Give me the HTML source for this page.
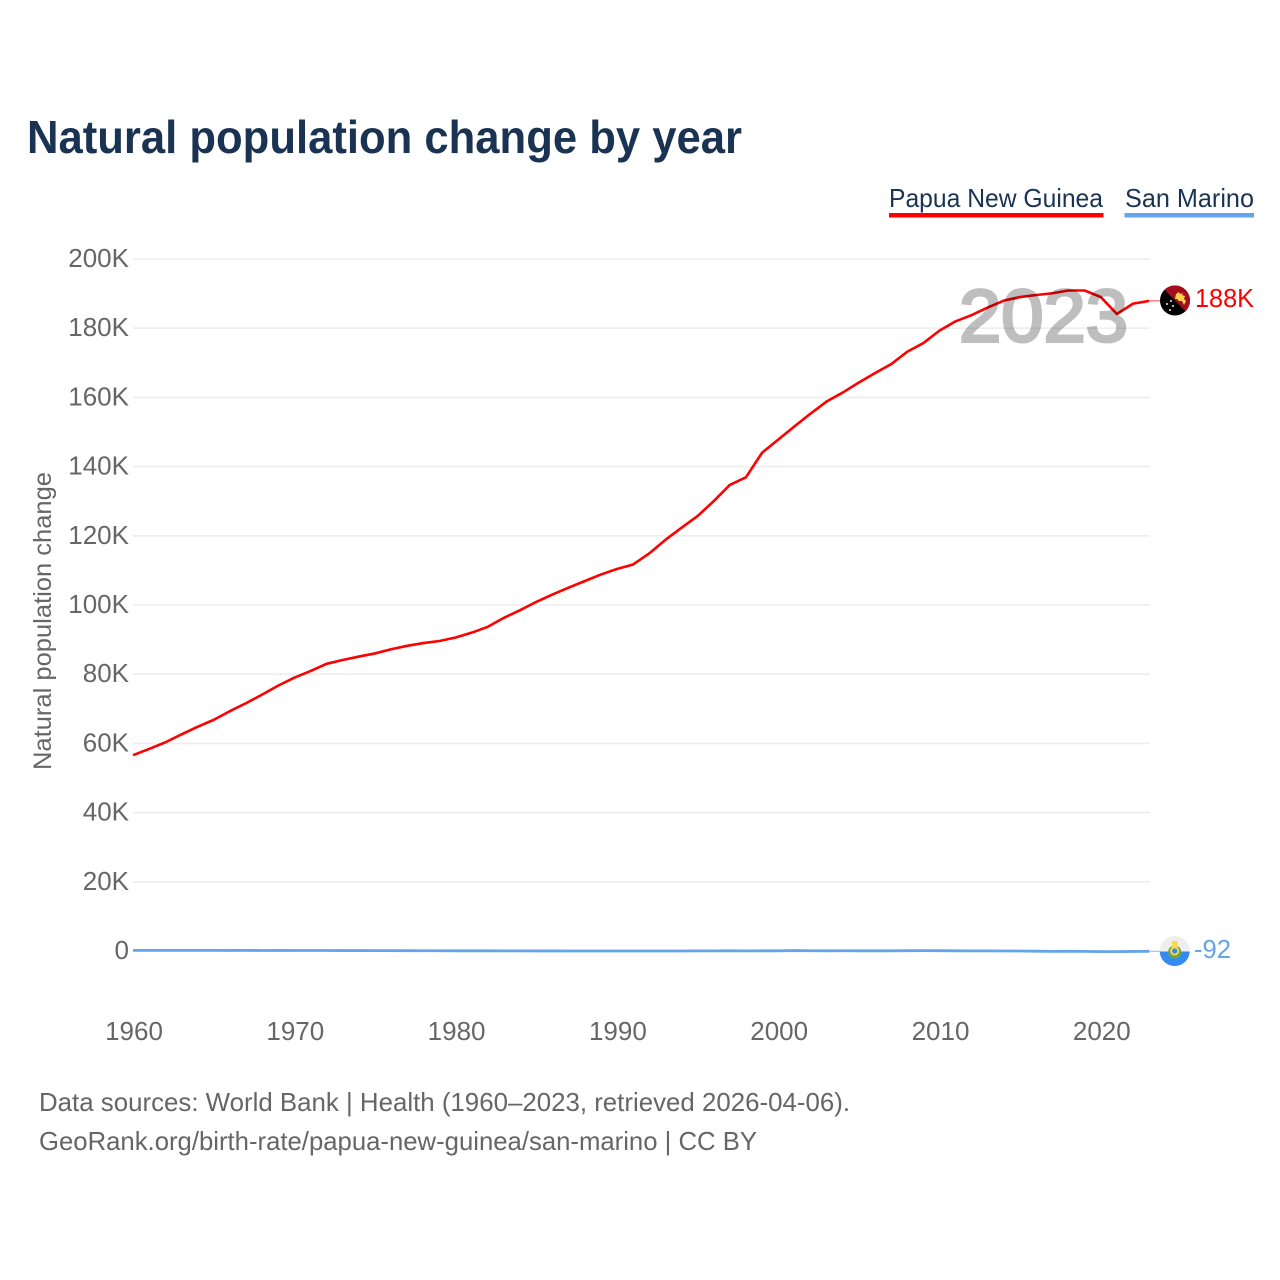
<!DOCTYPE html>
<html>
<head>
<meta charset="utf-8">
<style>
html,body{margin:0;padding:0;background:#fff;width:1280px;height:1280px;overflow:hidden}
svg{display:block;font-family:"Liberation Sans",sans-serif}
</style>
</head>
<body>
<svg id="chart" width="1280" height="1280" viewBox="0 0 1280 1280" xmlns="http://www.w3.org/2000/svg">
  <rect x="0" y="0" width="1280" height="1280" fill="#fff"/>
  <text x="27" y="153" font-size="46" font-weight="700" fill="#1a3353" textLength="715" lengthAdjust="spacingAndGlyphs">Natural population change by year</text>

  <g>
    <text x="889" y="207" font-size="26" fill="#1a3353" textLength="214" lengthAdjust="spacingAndGlyphs">Papua New Guinea</text>
    <rect x="889" y="213" width="214.5" height="4.5" fill="#ff0000"/>
  </g>
  <g>
    <text x="1125" y="207" font-size="26" fill="#1a3353" textLength="129" lengthAdjust="spacingAndGlyphs">San Marino</text>
    <rect x="1124.5" y="213" width="129.5" height="4.5" fill="#63a4ea"/>
  </g>

  <g id="grid"></g>
  <g id="yticks"></g>
  <g id="xticks"></g>
  <text transform="translate(51,621) rotate(-90)" text-anchor="middle" font-size="25" fill="#666" textLength="298" lengthAdjust="spacingAndGlyphs">Natural population change</text>

  <path id="line-sm" fill="none" stroke="#63a4ea" stroke-width="2.8" stroke-linejoin="round"/>
  <line id="conn-sm" stroke="#63a4ea" stroke-width="1.2" opacity="0.6"/>
  <path id="line-png" fill="none" stroke="#ff0000" stroke-width="2.6" stroke-linejoin="round"/>
  <line id="conn-png" stroke="#ff0000" stroke-width="1.2" opacity="0.6"/>

  <text x="959" y="341.5" font-size="74" fill="#000" opacity="0.25" stroke="#000" stroke-width="3" textLength="169" lengthAdjust="spacingAndGlyphs">2023</text>

  <g id="flag-png">
    <clipPath id="clip-png"><circle cx="1175" cy="300.5" r="15"/></clipPath>
    <g clip-path="url(#clip-png)">
      <rect x="1160" y="285" width="30" height="31" fill="#000"/>
      <polygon points="1160,285 1190,285 1190,316" fill="#a50d1e"/>
      <path d="M1176 294 l3 -2 1 2 3 -1 -1 2 3 1 -1 3 2 2 -2 4 -2 -4 -3 0 -2 -2 -2 0z" fill="#f8d24a"/>
      <circle cx="1171" cy="301" r="1" fill="#eee"/>
      <circle cx="1167" cy="304" r="1" fill="#eee"/>
      <circle cx="1173" cy="306" r="1" fill="#eee"/>
      <circle cx="1170" cy="310" r="1" fill="#eee"/>
    </g>
  </g>
  <g id="flag-sm">
    <clipPath id="clip-sm"><circle cx="1174.7" cy="951" r="15"/></clipPath>
    <g clip-path="url(#clip-sm)">
      <rect x="1159" y="936" width="31" height="15.5" fill="#eeeeee"/>
      <rect x="1159" y="951.5" width="31" height="15.5" fill="#338af3"/>
      <circle cx="1174.7" cy="952" r="6.5" fill="#6da544"/>
      <rect x="1172" y="941" width="5.5" height="7" fill="#ffda44"/>
      <circle cx="1174.7" cy="951" r="4.5" fill="#ffda44"/>
      <circle cx="1174.7" cy="951" r="2.6" fill="#338af3"/>
    </g>
  </g>

  <text id="label-png" x="1195" y="307" font-size="26" fill="#ff0000" textLength="59" lengthAdjust="spacingAndGlyphs">188K</text>
  <text id="label-sm" x="1194" y="958" font-size="26" fill="#63a4ea" textLength="37" lengthAdjust="spacingAndGlyphs">-92</text>

  <text x="39" y="1111" font-size="26" fill="#666" textLength="811" lengthAdjust="spacingAndGlyphs">Data sources: World Bank | Health (1960–2023, retrieved 2026-04-06).</text>
  <text x="39" y="1150" font-size="26" fill="#666" textLength="718" lengthAdjust="spacingAndGlyphs">GeoRank.org/birth-rate/papua-new-guinea/san-marino | CC BY</text>
</svg>
<script>
const startYear = 1960;
const xTickYears = [1960, 1970, 1980, 1990, 2000, 2010, 2020];
const yTickValues = [0, 20000, 40000, 60000, 80000, 100000, 120000, 140000, 160000, 180000, 200000];
const yTickLabels = ['0', '20K', '40K', '60K', '80K', '100K', '120K', '140K', '160K', '180K', '200K'];
const papuaNewGuinea = [
  56600, 58400, 60300, 62600, 64800, 66800, 69300, 71600, 74100, 76700,
  79000, 80900, 83000, 84100, 85100, 86000, 87200, 88200, 89000, 89600,
  90600, 92000, 93700, 96300, 98500, 100900, 103000, 105000, 106900, 108800,
  110400, 111700, 114900, 118800, 122300, 125700, 130000, 134700, 136900, 144000,
  147800, 151600, 155300, 158800, 161400, 164300, 167000, 169600, 173200, 175700,
  179300, 182000, 183800, 186000, 188000, 189000, 189600, 190100, 190900, 190900,
  189000, 184100, 187100, 187900
];
const sanMarino = [
  190, 180, 190, 170, 180, 170, 160, 170, 150, 160,
  150, 140, 150, 130, 120, 110, 100, 90, 80, 70,
  60, 60, 50, 40, 30, 20, 20, 10, 10, 0,
  0, 10, 0, 0, 10, 40, 30, 50, 40, 60,
  50, 120, 80, 50, 70, 50, 60, 50, 90, 100,
  90, 60, 40, 30, 10, -10, -60, -110, -90, -100,
  -190, -170, -120, -92
];

function x(year) { return 133 + (year - 1960) * 16.13; }
function y(value) { return 951 - value * 0.00346; }
function linePath(values) {
  return values.map(function (v, i) {
    return (i ? 'L' : 'M') + x(startYear + i).toFixed(2) + ' ' + y(v).toFixed(2);
  }).join(' ');
}
const NS = 'http://www.w3.org/2000/svg';
const grid = document.getElementById('grid');
const yticks = document.getElementById('yticks');
const xticks = document.getElementById('xticks');

yTickValues.forEach(function (v, i) {
  const l = document.createElementNS(NS, 'line');
  
  
  l.setAttribute('x1', 133);
  l.setAttribute('x2', 1150);
  l.setAttribute('y1', y(v));
  l.setAttribute('y2', y(v));
  l.setAttribute('stroke', '#eeeeee');
  l.setAttribute('stroke-width', '1.6');
  grid.appendChild(l);
  const t = document.createElementNS(NS, 'text');
  
  
  t.setAttribute('x', 129);
  t.setAttribute('y', y(v) + 8);
  t.setAttribute('text-anchor', 'end');
  t.setAttribute('font-size', '26');
  t.setAttribute('fill', '#666');
  t.textContent = yTickLabels[i];
  yticks.appendChild(t);
});
xTickYears.forEach(function (yr) {
  const t = document.createElementNS(NS, 'text');
  
  
  t.setAttribute('x', x(yr) + 1);
  t.setAttribute('y', 1040);
  t.setAttribute('text-anchor', 'middle');
  t.setAttribute('font-size', '26');
  t.setAttribute('fill', '#666');
  t.textContent = String(yr);
  xticks.appendChild(t);
});

document.getElementById('line-png').setAttribute('d', linePath(papuaNewGuinea));
document.getElementById('line-sm').setAttribute('d', linePath(sanMarino));

const lastYear = startYear + papuaNewGuinea.length - 1;
const connPng = document.getElementById('conn-png');
connPng.setAttribute('x1', x(lastYear));
connPng.setAttribute('x2', 1161);
connPng.setAttribute('y1', y(papuaNewGuinea[papuaNewGuinea.length - 1]));
connPng.setAttribute('y2', y(papuaNewGuinea[papuaNewGuinea.length - 1]));
const connSm = document.getElementById('conn-sm');
connSm.setAttribute('x1', x(lastYear));
connSm.setAttribute('x2', 1161);
connSm.setAttribute('y1', y(sanMarino[sanMarino.length - 1]));
connSm.setAttribute('y2', y(sanMarino[sanMarino.length - 1]));
</script>
</body>
</html>
